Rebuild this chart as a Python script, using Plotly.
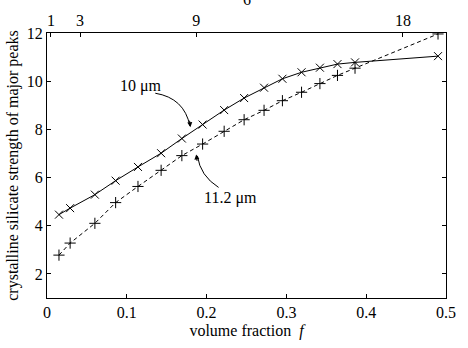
import plotly.graph_objects as go

# data
f_vals = [0.015, 0.029, 0.060, 0.086, 0.114, 0.143, 0.169, 0.195, 0.222, 0.247,
          0.272, 0.295, 0.319, 0.342, 0.364, 0.386, 0.490]
s_10um = [4.46, 4.73, 5.29, 5.87, 6.44, 7.01, 7.62, 8.20, 8.80, 9.30,
          9.73, 10.10, 10.37, 10.56, 10.71, 10.78, 11.04]
s_112um = [2.78, 3.28, 4.10, 4.96, 5.63, 6.30, 6.91, 7.39, 7.92, 8.40,
           8.79, 9.19, 9.54, 9.90, 10.24, 10.54, 11.96]

x_ticks = [0, 0.1, 0.2, 0.3, 0.4, 0.5]
y_ticks = [2, 4, 6, 8, 10, 12]
top_tick_pos = [0.005, 0.0415, 0.187, 0.446]
top_tick_text = ["1", "3", "9", "18"]

FONT = "Liberation Serif, Times New Roman, DejaVu Serif, serif"

fig = go.Figure()
fig.add_trace(go.Scatter(
    x=f_vals, y=s_10um, mode="lines+markers",
    line=dict(color="black", width=1),
    marker=dict(symbol="x-thin", size=8, line=dict(color="black", width=1)),
    showlegend=False))
fig.add_trace(go.Scatter(
    x=f_vals, y=s_112um, mode="lines+markers",
    line=dict(color="black", width=1, dash="4px,3px"),
    marker=dict(symbol="cross-thin", size=8, line=dict(color="black", width=1)),
    showlegend=False))
# invisible trace to activate top axis
fig.add_trace(go.Scatter(x=[0.25], y=[1], xaxis="x2", mode="markers",
                         marker=dict(opacity=0), showlegend=False, hoverinfo="skip"))

axis_common = dict(showgrid=False, zeroline=False, showline=True, linecolor="black",
                   linewidth=1, ticks="inside", ticklen=4, tickcolor="black",
                   tickfont=dict(family=FONT, size=16, color="black"))

fig.update_layout(
    width=468, height=348,
    margin=dict(l=46, r=13, t=33, b=43),
    paper_bgcolor="white", plot_bgcolor="white",
    font=dict(family=FONT, size=16, color="black"),
    xaxis=dict(range=[0, 0.5], tickvals=x_ticks, ticktext=["0", "0.1", "0.2", "0.3", "0.4", "0.5"],
               title=dict(text="volume fraction  <i>f</i>", font=dict(family=FONT, size=16), standoff=4),
               **axis_common),
    xaxis2=dict(range=[0, 0.5], overlaying="x", side="top", anchor="y",
                tickvals=top_tick_pos, ticktext=top_tick_text, **axis_common),
    yaxis=dict(range=[1, 12], tickvals=y_ticks, mirror="ticks",
               title=dict(text="crystalline silicate strength of major peaks",
                          font=dict(family=FONT, size=16), standoff=4),
               **axis_common),
)

# curved arrows
fig.add_shape(type="path", path="M 0.1357,9.50 Q 0.172,9.30 0.1790,8.15",
              xref="x", yref="y", line=dict(color="black", width=1))
fig.add_annotation(x=0.1797, y=8.09, xref="x", yref="y", ax=-1, ay=-8, text="",
                   showarrow=True, arrowhead=2, arrowsize=1, arrowwidth=1, standoff=0,
                   arrowcolor="black")
fig.add_shape(type="path", path="M 0.215,5.59 Q 0.192,6.07 0.1885,6.90",
              xref="x", yref="y", line=dict(color="black", width=1))
fig.add_annotation(x=0.187, y=6.96, xref="x", yref="y", ax=1, ay=8, text="",
                   showarrow=True, arrowhead=2, arrowsize=1, arrowwidth=1, standoff=0,
                   arrowcolor="black")

fig.add_annotation(x=0.1174, y=9.78, xref="x", yref="y", text="10 μm", showarrow=False,
                   font=dict(family=FONT, size=16))
fig.add_annotation(x=0.23, y=5.15, xref="x", yref="y", text="11.2 μm", showarrow=False,
                   font=dict(family=FONT, size=16))
# partially cut top title (cut off at the page edge as in the reference)
fig.add_annotation(x=0.5, y=1.085, xref="paper", yref="paper", yanchor="bottom",
                   text="6", showarrow=False, font=dict(family=FONT, size=16))

fig.write_html("out.html")
